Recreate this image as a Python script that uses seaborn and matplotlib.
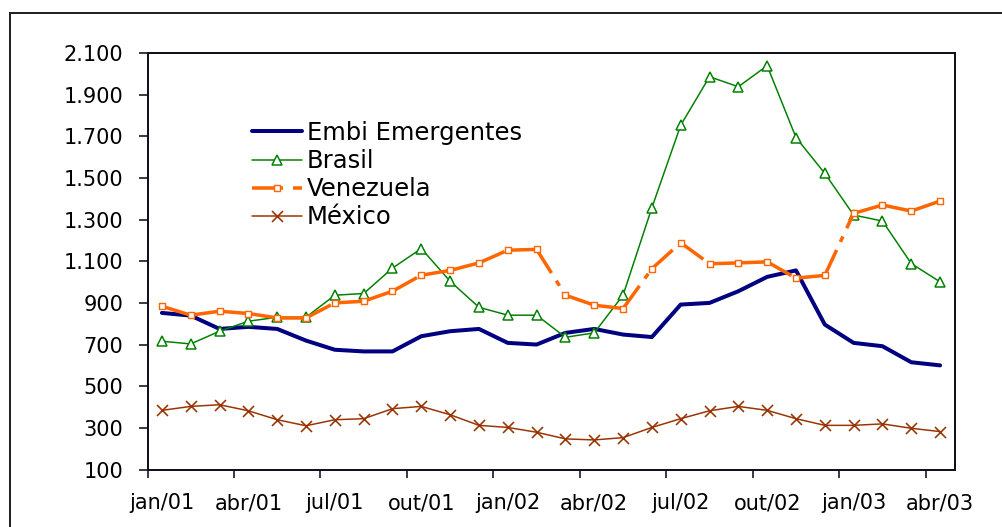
import numpy as np
import pandas as pd
import matplotlib
matplotlib.use("Agg")
import matplotlib.pyplot as plt
from matplotlib.lines import Line2D
from matplotlib.patches import Rectangle
from matplotlib.ticker import FixedLocator, FuncFormatter
import seaborn as sns

# Monthly spreads (basis points), jan/2001 - abr/2003
meses = [
    "jan/01", "fev/01", "mar/01", "abr/01", "mai/01", "jun/01",
    "jul/01", "ago/01", "set/01", "out/01", "nov/01", "dez/01",
    "jan/02", "fev/02", "mar/02", "abr/02", "mai/02", "jun/02",
    "jul/02", "ago/02", "set/02", "out/02", "nov/02", "dez/02",
    "jan/03", "fev/03", "mar/03", "abr/03",
]
embi = [852, 839, 775, 785, 775, 719, 675, 667, 667, 740, 764, 775, 708, 700,
        756, 775, 748, 736, 892, 900, 956, 1025, 1056, 796, 708, 692, 615, 600]
brasil = [716, 703, 764, 812, 831, 831, 937, 945, 1067, 1161, 1004, 879, 841, 841,
          735, 756, 937, 1357, 1753, 1986, 1938, 2039, 1694, 1522, 1322, 1293, 1089, 1001]
venezuela = [884, 841, 860, 849, 828, 828, 900, 908, 956, 1033, 1056, 1092, 1153, 1157,
             937, 889, 873, 1064, 1189, 1088, 1092, 1097, 1019, 1032, 1330, 1370, 1341, 1389]
mexico = [384, 403, 411, 382, 339, 310, 339, 344, 392, 403, 363, 312, 302, 279,
          247, 242, 253, 302, 344, 382, 403, 384, 344, 312, 312, 319, 298, 282]
y_ticks = list(range(100, 2101, 200))

series_names = ["Embi Emergentes", "Brasil", "Venezuela", "México"]
colors = {"Embi Emergentes": "#000080", "Brasil": "#008000",
          "Venezuela": "#FF6600", "México": "#993300"}

sns.set_theme(style="white")
plt.rcParams["font.family"] = ["DejaVu Sans"]
plt.rcParams["lines.scale_dashes"] = False
plt.rcParams["text.color"] = "black"

PX = 0.72  # points per pixel at 100 dpi
fig = plt.figure(figsize=(10.03, 5.27), dpi=100)
ax = fig.add_axes([147.5 / 1003, 1 - 469.5 / 527, 807 / 1003, 416.5 / 527])

x = np.arange(len(meses))
df = pd.DataFrame({"idx": x, "embi": embi, "brasil": brasil,
                   "venezuela": venezuela, "mexico": mexico})

# Embi: thick navy line
sns.lineplot(data=df, x="idx", y="embi", ax=ax, color=colors["Embi Emergentes"],
             lw=4 * PX, errorbar=None, zorder=2)

# Brasil: thin green line with hollow triangles
sns.lineplot(data=df, x="idx", y="brasil", ax=ax, color=colors["Brasil"],
             lw=1.5 * PX, marker="^", markersize=7.5,
             markerfacecolor="white", markeredgecolor=colors["Brasil"],
             markeredgewidth=1.5 * PX, errorbar=None, zorder=3)

# Venezuela: thick dashed line, pattern restarting on every segment
ven_dashes = (28 * PX, 9 * PX, 6 * PX, 9 * PX)
for i in range(len(x) - 1):
    ax.plot(df["idx"].iloc[i:i + 2], df["venezuela"].iloc[i:i + 2],
            color=colors["Venezuela"], lw=3.5 * PX, dashes=ven_dashes,
            solid_capstyle="butt", dash_capstyle="butt", zorder=4)
sns.scatterplot(data=df, x="idx", y="venezuela", ax=ax, marker="s",
                s=(5.5 * PX) ** 2, facecolor="white",
                edgecolor=colors["Venezuela"], linewidth=1.4 * PX, zorder=5)

# México: thin brown line with x markers
sns.lineplot(data=df, x="idx", y="mexico", ax=ax, color=colors["México"],
             lw=1.5 * PX, marker="x", markersize=11 * PX,
             markeredgecolor=colors["México"], markeredgewidth=1.6 * PX,
             errorbar=None, zorder=6)

ax.set_xlim(-0.5, len(meses) - 0.5)
ax.set_ylim(100, 2100)
ax.set_xlabel("")
ax.set_ylabel("")
ax.grid(False)

# x axis: labels centred on months, tick marks on month boundaries
major = x[::3]
ax.xaxis.set_major_locator(FixedLocator(major))
ax.set_xticklabels([meses[i] for i in major])
ax.xaxis.set_minor_locator(FixedLocator(major - 0.5))
ax.tick_params(axis="x", which="major", length=0, pad=17, labelsize=15,
               colors="black")
ax.tick_params(axis="x", which="minor", length=8 * PX, width=1.5 * PX,
               direction="out", color="black", bottom=True)

ax.yaxis.set_major_locator(FixedLocator(y_ticks))
ax.yaxis.set_major_formatter(
    FuncFormatter(lambda v, _: f"{v:,.0f}".replace(",", ".")))
ax.tick_params(axis="y", which="major", length=9 * PX, width=1.5 * PX,
               direction="out", pad=11, labelsize=15, left=True,
               color="black", labelcolor="black")

for sp in ax.spines.values():
    sp.set_visible(True)
    sp.set_color("#111122")
    sp.set_linewidth(2 * PX)

# legend
handles = [
    Line2D([], [], color=colors["Embi Emergentes"], lw=4 * PX),
    Line2D([], [], color=colors["Brasil"], lw=1.5 * PX, marker="^",
           markersize=7.5, markerfacecolor="white",
           markeredgecolor=colors["Brasil"], markeredgewidth=1.5 * PX),
    Line2D([], [], color=colors["Venezuela"], lw=3.5 * PX,
           dashes=(31 * PX, 10 * PX, 30 * PX, 0.01), dash_capstyle="butt",
           marker="s", markersize=5.5 * PX,
           markerfacecolor="white", markeredgecolor=colors["Venezuela"],
           markeredgewidth=1.4 * PX),
    Line2D([], [], color=colors["México"], lw=1.5 * PX, marker="x",
           markersize=11 * PX, markeredgecolor=colors["México"],
           markeredgewidth=1.6 * PX),
]
fig.legend(handles, series_names, loc="upper left",
           bbox_to_anchor=(252 / 1003, 1 - 121 / 527), frameon=False,
           fontsize=17.5, handlelength=2.05, handletextpad=0.2,
           labelspacing=0.17, borderpad=0, borderaxespad=0, numpoints=1,
           labelcolor="black")

# outer chart border
fig.patches.append(Rectangle((10 / 1003, -0.5), 2.0, 0.5 + (1 - 13.3 / 527),
                             transform=fig.transFigure, fill=False,
                             edgecolor="#222222", linewidth=2 * PX,
                             clip_on=False))

fig.savefig("out.png", dpi=100)
